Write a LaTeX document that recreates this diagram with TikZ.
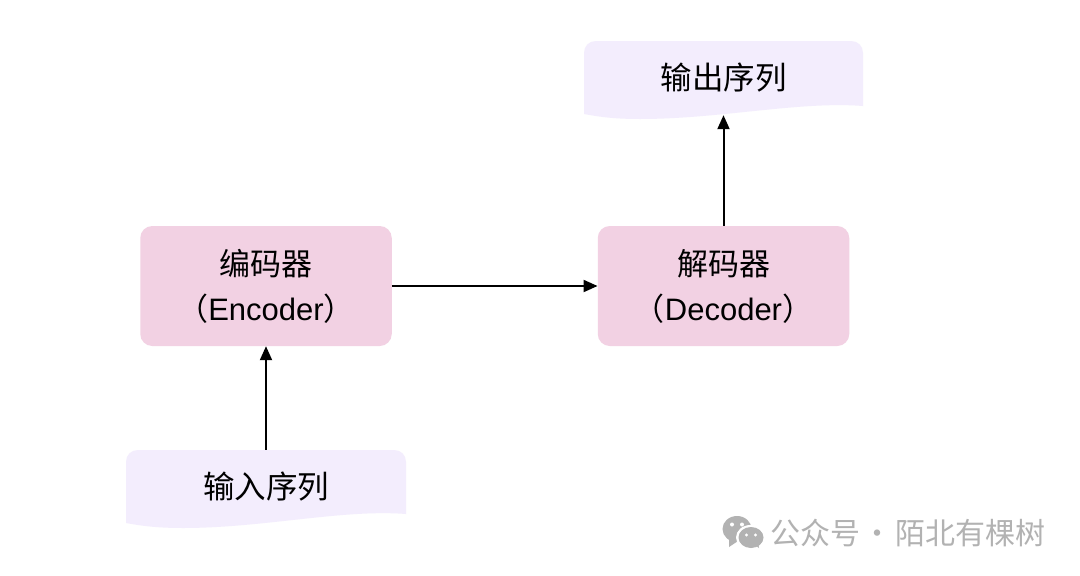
\documentclass[tikz,border=0pt]{standalone}
\usepackage{fontspec}
\setmainfont{Liberation Sans}
\newfontfamily\cjk{Noto Sans CJK SC}
\usetikzlibrary{arrows.meta}
\definecolor{boxpink}{HTML}{F2D1E3}
\definecolor{doclilac}{HTML}{F3EDFD}
\definecolor{wmgray}{HTML}{B2B2B2}
\tikzset{
  procbox/.style={fill=boxpink,rounded corners=12pt,minimum width=251.5pt,minimum height=120pt,inner sep=0pt,align=center,text=black,font=\fontsize{31}{45}\selectfont},
  docfill/.style={fill=doclilac,draw=none},
  doclabel/.style={inner sep=0pt,minimum width=279pt,minimum height=73pt,text=black,font=\cjk\fontsize{31.5}{36}\selectfont},
  flow/.style={draw=black,line width=2pt,-{Triangle[length=14pt,width=12pt]}},
  wmark/.style={text=wmgray,inner sep=0pt,anchor=west,font=\cjk\fontsize{30}{36}\selectfont}
}
\begin{document}
\begin{tikzpicture}[x=1pt,y=-1pt]
\useasboundingbox (0,0) rectangle (1080,576);
\fill[white] (0,0) rectangle (1080,576);
% wavy document backgrounds
\path[docfill] (584,114) -- (584,53) .. controls (584,46) and (589,41) .. (596,41) -- (851,41) .. controls (858,41) and (863,46) .. (863,53) -- (863,106)
  .. controls (800,101) and (720,119) .. (640,119) .. controls (615,119) and (600,117) .. (584,114) -- cycle;
\path[docfill] (126,523) -- (126,462) .. controls (126,455) and (131,450) .. (138,450) -- (394,450) .. controls (401,450) and (406,455) .. (406,462) -- (406,514)
  .. controls (343,509) and (263,528) .. (183,528) .. controls (158,528) and (142,526) .. (126,523) -- cycle;
% nodes
\node[doclabel] (outseq) at (723.5,77.5) {输出序列};
\node[doclabel] (inseq) at (266,486.5) {输入序列};
\node[procbox] (enc) at (266,286) {{\cjk 编码器}\\{\cjk （}Encoder{\cjk ）}};
\node[procbox] (dec) at (723.5,286) {{\cjk 解码器}\\{\cjk （}Decoder{\cjk ）}};
% connectors
\draw[flow] (inseq.north) -- (enc.south);
\draw[flow] (enc.east) -- (dec.west);
\draw[flow] (dec.north) -- ([yshift=-1pt]outseq.south);
% watermark icon
\fill[wmgray] (737,529) ellipse[x radius=14.5,y radius=13];
\fill[wmgray] (729,538) -- (729,547) -- (738,541) -- cycle;
\fill[white] (750.5,537.5) ellipse[x radius=14.5,y radius=12.5];
\fill[wmgray] (751,537.5) ellipse[x radius=12.5,y radius=10.5];
\fill[wmgray] (755,545) -- (759,548) -- (758,542) -- cycle;
\fill[white] (732,524.5) circle[radius=2] (742,524.5) circle[radius=2];
\fill[white] (746.5,535) circle[radius=1.7] (755.5,535) circle[radius=1.7];
\node[wmark] (wm) at (770,533) {公众号\hspace{2.5pt}·\hspace{2.5pt}陌北有棵树};
\end{tikzpicture}
\end{document}
